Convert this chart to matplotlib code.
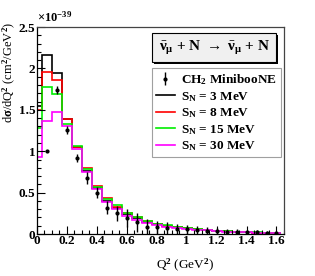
import numpy as np
import matplotlib
matplotlib.use("Agg")
import matplotlib.pyplot as plt
from matplotlib.patches import Rectangle
from matplotlib.ticker import MultipleLocator


# Data

# bin edges in Q^2 (GeV^2): a short first bin, then bins of width 1/15
q2_edges = [0.0, 0.0333, 0.1, 0.1667, 0.2333, 0.3, 0.3667, 0.4333, 0.5,
            0.5667, 0.6333, 0.7, 0.7667, 0.8333, 0.9, 0.9667, 1.0333, 1.1,
            1.1667, 1.2333, 1.3, 1.3667, 1.4333, 1.5, 1.5667, 1.6333]

sn3 = [1.55, 2.16, 1.94, 1.385, 1.05, 0.76, 0.56, 0.40, 0.31, 0.24, 0.19,
       0.15, 0.12, 0.10, 0.085, 0.07, 0.058, 0.048, 0.04, 0.033, 0.027,
       0.022, 0.018, 0.015, 0.012]
sn8 = [1.50, 1.96, 1.86, 1.39, 1.05, 0.80, 0.58, 0.44, 0.33, 0.25, 0.20,
       0.155, 0.12, 0.10, 0.085, 0.07, 0.058, 0.048, 0.04, 0.033, 0.027,
       0.022, 0.018, 0.015, 0.012]
sn15 = [1.28, 1.77, 1.69, 1.33, 1.06, 0.78, 0.57, 0.42, 0.35, 0.26, 0.21,
        0.16, 0.125, 0.105, 0.088, 0.072, 0.06, 0.05, 0.042, 0.034, 0.028,
        0.023, 0.019, 0.016, 0.013]
sn30 = [0.93, 1.36, 1.48, 1.30, 1.03, 0.75, 0.55, 0.39, 0.30, 0.22, 0.17,
        0.13, 0.11, 0.09, 0.078, 0.064, 0.053, 0.044, 0.036, 0.03, 0.025,
        0.02, 0.016, 0.013, 0.01]

# MiniBooNE CH2 data
data_q2 = [0.0667, 0.1333, 0.2, 0.2667, 0.3333, 0.4, 0.4667, 0.5333, 0.6,
           0.6667, 0.7333, 0.8, 0.8667, 0.9333, 1.0, 1.0667, 1.1333, 1.2,
           1.2667, 1.3333, 1.4, 1.4667, 1.5333, 1.6]
data_xs = [1.0, 1.74, 1.26, 0.92, 0.68, 0.50, 0.32, 0.25, 0.19, 0.14, 0.09,
           0.08, 0.075, 0.065, 0.055, 0.05, 0.04, 0.035, 0.03, 0.025, 0.02,
           0.02, 0.015, 0.015]
data_err = [0.0, 0.05, 0.05, 0.05, 0.07, 0.07, 0.08, 0.09, 0.11, 0.11, 0.09,
            0.08, 0.07, 0.06, 0.055, 0.05, 0.045, 0.04, 0.035, 0.03, 0.028,
            0.025, 0.022, 0.02]

series = [
    (sn3, "black", r"S$_{\mathrm{N}}$ = 3 MeV"),
    (sn8, "#ff0000", r"S$_{\mathrm{N}}$ = 8 MeV"),
    (sn15, "#00ee00", r"S$_{\mathrm{N}}$ = 15 MeV"),
    (sn30, "#ff00ff", r"S$_{\mathrm{N}}$ = 30 MeV"),
]


# Style

plt.rcParams["font.family"] = ["Liberation Serif", "DejaVu Serif"]
plt.rcParams["font.weight"] = "bold"
plt.rcParams["mathtext.fontset"] = "custom"
plt.rcParams["mathtext.rm"] = "Liberation Serif:bold"
plt.rcParams["mathtext.it"] = "Liberation Serif:bold"
plt.rcParams["mathtext.bf"] = "Liberation Serif:bold"


# Plot

fig = plt.figure(figsize=(3.15, 2.76), dpi=100)
ax = fig.add_axes([0.1175, 0.152, 0.784, 0.75])

handles = []
for vals, col, lab in series:
    h = ax.stairs(vals, q2_edges, color=col, linewidth=1.2, baseline=None,
                  label=lab)
    handles.append(h)

eb = ax.errorbar(data_q2, data_xs, yerr=data_err, fmt="o", color="black",
                 markersize=2.0, elinewidth=1.0, capsize=0,
                 label=r"CH$_{2}$ MinibooNE")

ax.set_xlim(0, 1.65)
ax.set_ylim(0, 2.5)

ax.xaxis.set_major_locator(MultipleLocator(0.2))
ax.xaxis.set_minor_locator(MultipleLocator(0.05))
ax.yaxis.set_major_locator(MultipleLocator(0.5))
ax.yaxis.set_minor_locator(MultipleLocator(0.1))
ax.tick_params(which="both", direction="in", top=False, right=False,
               labelsize=9.5, width=0.8)
ax.tick_params(which="major", length=6)
ax.tick_params(which="minor", length=3)
ax.set_xticklabels([f"{t:g}" for t in ax.get_xticks()])
ax.set_yticklabels([f"{t:g}" for t in ax.get_yticks()])
ax.tick_params(axis="x", pad=1)
ax.tick_params(axis="y", pad=1)

for s in ["top", "right"]:
    ax.spines[s].set_color("#444444")
for s in ax.spines.values():
    s.set_linewidth(0.9)

ax.set_xlabel(r"Q$^{2}$ (GeV$^{2}$)", fontsize=9.5)
ax.xaxis.set_label_coords(0.6, -0.11)
ax.set_ylabel(r"d$\sigma$/dQ$^{2}$ (cm$^{2}$/GeV$^{2}$)", fontsize=9)
ax.yaxis.set_label_coords(-0.075, 0.78)
ax.text(0.0, 1.01, r"$\times$10$^{-39}$", transform=ax.transAxes,
        fontsize=9, ha="left", va="bottom")

# header box with shadow
hx0, hy0, hw, hh = 0.466, 0.831, 0.502, 0.14
ax.add_patch(Rectangle((hx0 + 0.008, hy0 - 0.01), hw, hh,
                       transform=ax.transAxes, facecolor="black",
                       edgecolor="none", clip_on=False, zorder=5))
ax.add_patch(Rectangle((hx0, hy0), hw, hh, transform=ax.transAxes,
                       facecolor="#f0f0f0", edgecolor="black",
                       linewidth=0.8, clip_on=False, zorder=6))
ax.text(hx0 + hw / 2, hy0 + hh / 2,
        r"$\bar{\nu}_{\mu}$ + N $\rightarrow$ $\bar{\nu}_{\mu}$ + N",
        transform=ax.transAxes, ha="center", va="center", fontsize=11,
        zorder=7)

leg = ax.legend([eb] + handles,
                [eb.get_label()] + [s[2] for s in series],
                loc="upper left", bbox_to_anchor=(0.466, 0.80),
                fontsize=9.5, frameon=True, fancybox=False,
                edgecolor="#888888", handlelength=1.4, handletextpad=0.5,
                labelspacing=0.2, borderpad=0.3, borderaxespad=0)
leg.get_frame().set_linewidth(0.8)
for lh in leg.get_lines():
    lh.set_linewidth(1.2)

fig.savefig("out.png", dpi=100)
